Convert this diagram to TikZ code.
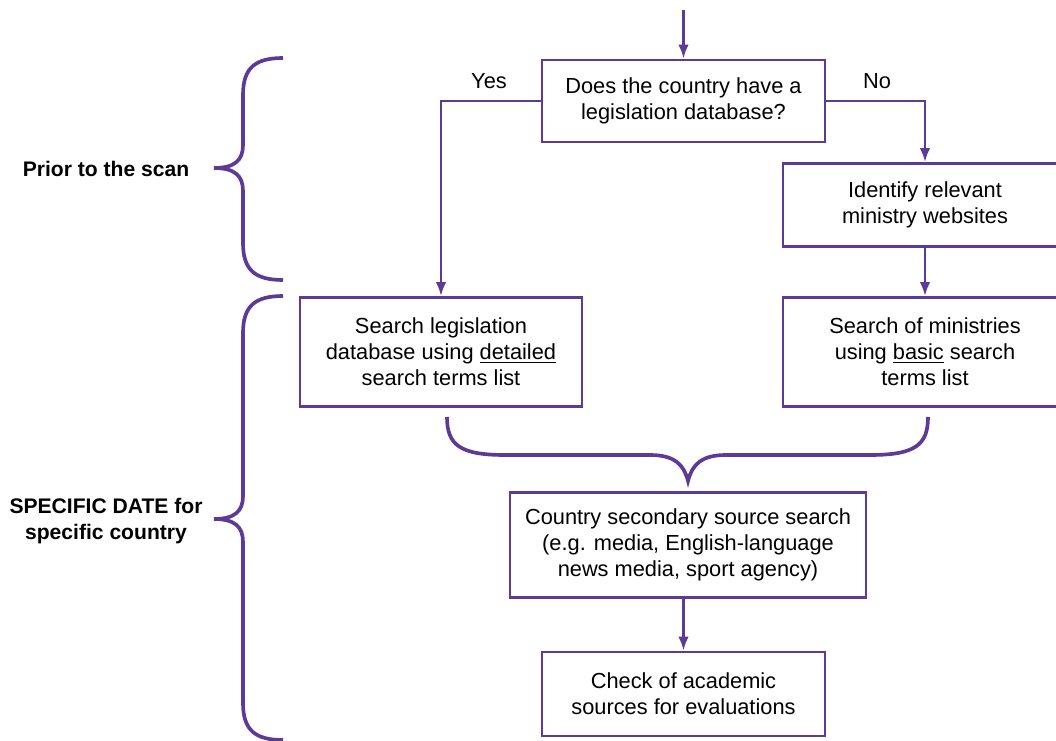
\documentclass[tikz,border=0pt]{standalone}
\usepackage{fontspec}
\setmainfont{Liberation Sans}
\usetikzlibrary{arrows.meta}
\definecolor{scanpurple}{RGB}{92,58,150}

\begin{document}
\begin{tikzpicture}[x=0.025cm, y=-0.025cm,
		box/.style={draw=scanpurple, line width=1.9pt, align=center, inner sep=2pt,
			font=\fontsize{15.5}{18.5}\selectfont},
		flow/.style={draw=scanpurple, line width=1.9pt, -{Latex[length=10pt,width=7.5pt]}},
		curly/.style={draw=scanpurple, line width=2.6pt},
		side/.style={font=\fontsize{15}{18.5}\selectfont\bfseries, align=center},
		answer/.style={font=\fontsize{15.5}{18.5}\selectfont}]
			\clip (0,0) rectangle (1056,741);
			\fill[white] (0,0) rectangle (1056,741);
			% boxes of the flow
			\node[box, minimum width=7.075cm, minimum height=2.05cm] (q) at (683.5,101)
				{Does the country have a\\legislation database?};
			\node[box, minimum width=7.1cm, minimum height=2.075cm] (ident) at (925,205)
				{Identify relevant\\ministry websites};
			\node[box, minimum width=7.05cm, minimum height=2.725cm] (leg) at (441,352)
				{Search legislation\\database using \underline{detailed}\\search terms list};
			\node[box, minimum width=7.1cm, minimum height=2.725cm] (mins) at (925,352)
				{Search of ministries\\using \underline{basic} search\\terms list};
			\node[box, minimum width=8.9cm, minimum height=2.625cm] (sec) at (688,545)
				{Country secondary source search\\(e.g. media, English-language\\news media, sport agency)};
			\node[box, minimum width=7.075cm, minimum height=2.1cm] (chk) at (683.5,694)
				{Check of academic\\sources for evaluations};
			\coordinate (in) at (683.5,10);
			\node[answer] (yes) at (489,81) {Yes};
			\node[answer] (no) at (877,81) {No};
			\node[side] (prior) at (106,169) {Prior to the scan};
			\node[side] (date) at (106,521) {SPECIFIC DATE for\\specific country};
			% connectors
			\draw[flow] (in) -- (q.north);
			\draw[flow] (q.west) -| (leg.north);
			\draw[flow] (q.east) -| (ident.north);
			\draw[flow] (ident.south) -- (mins.north);
			\draw[flow] (sec.south -| chk.north) -- (chk.north);
			% braces
			\draw[curly] (283,58) .. controls (255,58) and (243,68) .. (243,95) -- (243,145)
				.. controls (243,160) and (235,168) .. (214,168)
				.. controls (235,168) and (243,176) .. (243,191) -- (243,243)
				.. controls (243,270) and (255,280) .. (283,280);
			\draw[curly] (283,296) .. controls (255,296) and (243,306) .. (243,333) -- (243,496)
				.. controls (243,511) and (235,519) .. (214,519)
				.. controls (235,519) and (243,527) .. (243,542) -- (243,703)
				.. controls (243,730) and (255,740) .. (283,740);
			\draw[curly] (447,417) .. controls (447,445) and (460,455) .. (505,455) -- (650,455)
				.. controls (675,455) and (684,465) .. (688,481)
				.. controls (692,465) and (701,455) .. (726,455) -- (870,455)
				.. controls (915,455) and (928,445) .. (928,417);
		\end{tikzpicture}
\end{document}
